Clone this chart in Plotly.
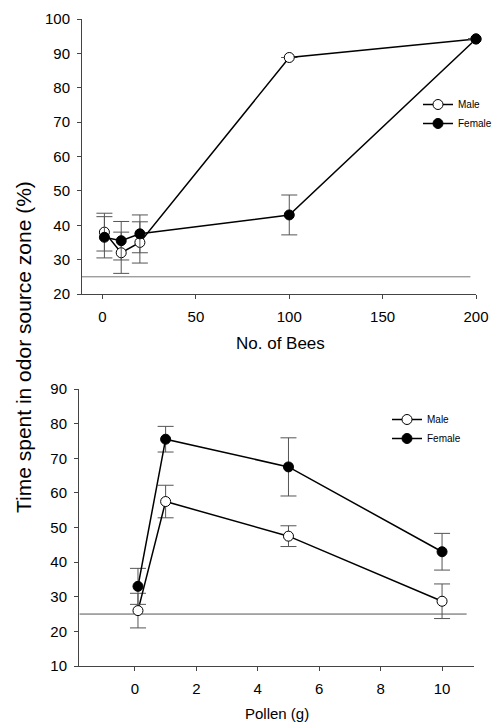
import plotly.graph_objects as go

# ---- data: top panel (No. of Bees) ----
bees_x = [1, 10, 20, 100, 200]
bees_male = [38.0, 32.0, 35.0, 88.8, 94.2]
bees_male_err = [5.5, 6.0, 6.0, 0.0, 0.0]
bees_female = [36.5, 35.5, 37.5, 43.0, 94.2]
bees_female_err = [6.0, 5.6, 5.5, 5.8, 0.0]

# ---- data: bottom panel (Pollen) ----
pollen_x = [0.1, 1, 5, 10]
pollen_male = [26.0, 57.5, 47.5, 28.7]
pollen_male_err = [5.0, 4.7, 3.0, 5.0]
pollen_female = [33.0, 75.5, 67.5, 43.0]
pollen_female_err = [5.2, 3.7, 8.4, 5.3]

chance_level = 25
bees_ref_x = [-11, 197]
pollen_ref_x = [-1.8, 10.8]

bees_xticks = [0, 50, 100, 150, 200]
bees_yticks = [20, 30, 40, 50, 60, 70, 80, 90, 100]
pollen_xticks = [0, 2, 4, 6, 8, 10]
pollen_yticks = [10, 20, 30, 40, 50, 60, 70, 80, 90]

FONT = "Liberation Sans, Arial, sans-serif"
W, H = 492, 722

fig = go.Figure()

def err(v):
    return dict(type="data", array=v, visible=True, color="#555555", thickness=1, width=8)

# reference lines
fig.add_trace(go.Scatter(x=bees_ref_x, y=[chance_level]*2, mode="lines",
                         line=dict(color="#777777", width=1), showlegend=False,
                         hoverinfo="skip", xaxis="x", yaxis="y"))
fig.add_trace(go.Scatter(x=pollen_ref_x, y=[chance_level]*2, mode="lines",
                         line=dict(color="#555555", width=1), showlegend=False,
                         hoverinfo="skip", xaxis="x2", yaxis="y2"))

# top panel
fig.add_trace(go.Scatter(x=bees_x, y=bees_male, error_y=err(bees_male_err), name="Male",
                         mode="lines+markers", line=dict(color="black", width=1.5),
                         marker=dict(symbol="circle", size=10, color="white",
                                     line=dict(color="black", width=1)),
                         cliponaxis=False, xaxis="x", yaxis="y", legend="legend"))
fig.add_trace(go.Scatter(x=bees_x, y=bees_female, error_y=err(bees_female_err), name="Female",
                         mode="lines+markers", line=dict(color="black", width=1.5),
                         marker=dict(symbol="circle", size=10, color="black",
                                     line=dict(color="black", width=1)),
                         cliponaxis=False, xaxis="x", yaxis="y", legend="legend"))

# bottom panel
fig.add_trace(go.Scatter(x=pollen_x, y=pollen_male, error_y=err(pollen_male_err), name="Male",
                         mode="lines+markers", line=dict(color="black", width=1.5),
                         marker=dict(symbol="circle", size=10, color="white",
                                     line=dict(color="black", width=1)),
                         cliponaxis=False, xaxis="x2", yaxis="y2", legend="legend2"))
fig.add_trace(go.Scatter(x=pollen_x, y=pollen_female, error_y=err(pollen_female_err), name="Female",
                         mode="lines+markers", line=dict(color="black", width=1.5),
                         marker=dict(symbol="circle", size=10, color="black",
                                     line=dict(color="black", width=1)),
                         cliponaxis=False, xaxis="x2", yaxis="y2", legend="legend2"))

axis_common = dict(showline=True, linecolor="#444444", linewidth=1, ticks="outside",
                   ticklen=4, tickcolor="#444444", showgrid=False, zeroline=False,
                   tickfont=dict(family=FONT, size=15, color="black"))

def px_x(p):
    return p / W

def px_y(p):
    return 1 - p / H

fig.update_layout(
    width=W, height=H,
    margin=dict(l=0, r=0, t=0, b=0, autoexpand=False),
    paper_bgcolor="white", plot_bgcolor="white",
    font=dict(family=FONT, color="black"),
    xaxis=dict(axis_common, domain=[px_x(82), px_x(476)], range=[-11, 200],
               tickvals=bees_xticks, anchor="y", ticklabelstandoff=5),
    yaxis=dict(axis_common, domain=[px_y(294), px_y(19)], range=[20, 100],
               tickvals=bees_yticks, anchor="x", ticklabelstandoff=4),
    xaxis2=dict(axis_common, domain=[px_x(79), px_x(474)], range=[-1.82, 11.04],
                tickvals=pollen_xticks, anchor="y2", ticklabelstandoff=5),
    yaxis2=dict(axis_common, domain=[px_y(666), px_y(389)], range=[10, 90],
                tickvals=pollen_yticks, anchor="x2", ticklabelstandoff=4),
    legend=dict(x=px_x(418), y=px_y(90), xanchor="left", yanchor="top",
                font=dict(family=FONT, size=10), bgcolor="rgba(0,0,0,0)",
                tracegroupgap=0, itemwidth=30),
    legend2=dict(x=px_x(387), y=px_y(405), xanchor="left", yanchor="top",
                 font=dict(family=FONT, size=10), bgcolor="rgba(0,0,0,0)",
                 tracegroupgap=0, itemwidth=30),
    annotations=[
        dict(text="No. of Bees", x=px_x(280), y=px_y(343), xref="paper", yref="paper",
             showarrow=False, font=dict(family=FONT, size=17), xanchor="center", yanchor="middle"),
        dict(text="Pollen (g)", x=px_x(277), y=px_y(713), xref="paper", yref="paper",
             showarrow=False, font=dict(family=FONT, size=15), xanchor="center", yanchor="middle"),
        dict(text="Time spent in odor source zone (%)", x=px_x(23), y=px_y(347),
             xref="paper", yref="paper", showarrow=False, textangle=-90,
             font=dict(family=FONT, size=21), xanchor="center", yanchor="middle"),
    ],
)

fig.write_html("out.html", config={"displayModeBar": False},
               post_script="document.body.style.margin='0';document.body.style.overflow='hidden';")
